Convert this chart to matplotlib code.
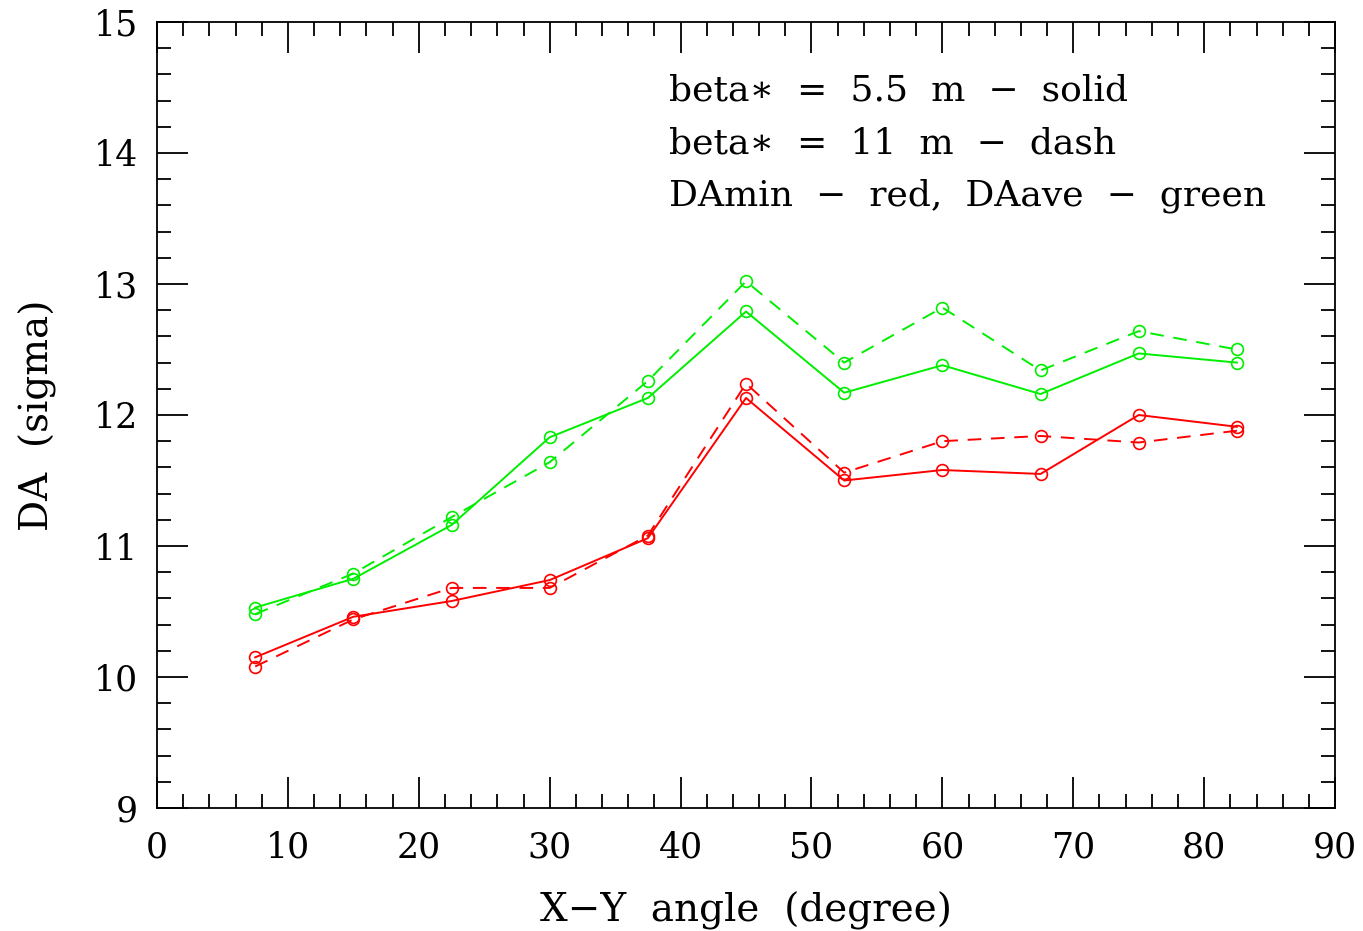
import numpy as np
import matplotlib
matplotlib.use('Agg')
import matplotlib.pyplot as plt
from matplotlib.ticker import MultipleLocator

plt.rcParams['font.family'] = ['DejaVu Serif']
plt.rcParams['axes.unicode_minus'] = True

# X-Y angle scan, dynamic aperture in sigma
angle = [7.5, 15, 22.5, 30, 37.5, 45, 52.5, 60, 67.5, 75, 82.5]
ave_55 = [10.53, 10.75, 11.16, 11.83, 12.13, 12.79, 12.17, 12.38, 12.16, 12.47, 12.40]
ave_11 = [10.48, 10.79, 11.22, 11.64, 12.26, 13.02, 12.40, 12.82, 12.34, 12.64, 12.50]
min_55 = [10.15, 10.46, 10.58, 10.74, 11.06, 12.13, 11.50, 11.58, 11.55, 12.00, 11.91]
min_11 = [10.08, 10.44, 10.68, 10.68, 11.08, 12.24, 11.56, 11.80, 11.84, 11.79, 11.88]

notes = ['beta\u2217  =  5.5  m  \u2212  solid',
         'beta\u2217  =  11  m  \u2212  dash',
         'DAmin  \u2212  red,  DAave  \u2212  green']

fig = plt.figure(figsize=(13.63, 9.31), dpi=100)
ax = fig.add_axes([0.1152, 0.1321, 0.8643, 0.8443])

mk = dict(marker='o', markersize=8.5, markerfacecolor='none', markeredgewidth=1.2, linewidth=1.4)
ax.plot(angle, ave_55, color='#00ee00', linestyle='-', **mk)
ax.plot(angle, ave_11, color='#00ee00', linestyle=(0, (7, 5)), **mk)
ax.plot(angle, min_55, color='#ff0000', linestyle='-', **mk)
ax.plot(angle, min_11, color='#ff0000', linestyle=(0, (7, 5)), **mk)

ax.set_xlim(0, 90)
ax.set_ylim(9, 15)
ax.xaxis.set_major_locator(MultipleLocator(10))
ax.xaxis.set_minor_locator(MultipleLocator(2))
ax.yaxis.set_major_locator(MultipleLocator(1))
ax.yaxis.set_minor_locator(MultipleLocator(0.2))
ax.tick_params(which='both', direction='in', top=True, right=True, labelsize=25, width=1.3)
ax.tick_params(axis='x', pad=16)
ax.tick_params(axis='y', pad=14)
ax.tick_params(which='major', length=22)
ax.tick_params(which='minor', length=10)
for s in ax.spines.values():
    s.set_linewidth(1.3)

ax.set_xlabel('X\u2212Y  angle  (degree)', fontsize=28, labelpad=20)
ax.set_ylabel('DA  (sigma)', fontsize=28, labelpad=26)

for i, t in enumerate(notes):
    ax.text(0.435, 0.913 - i * 0.067, t, transform=ax.transAxes, fontsize=26, va='center', ha='left')

fig.savefig('out.png', dpi=100)
